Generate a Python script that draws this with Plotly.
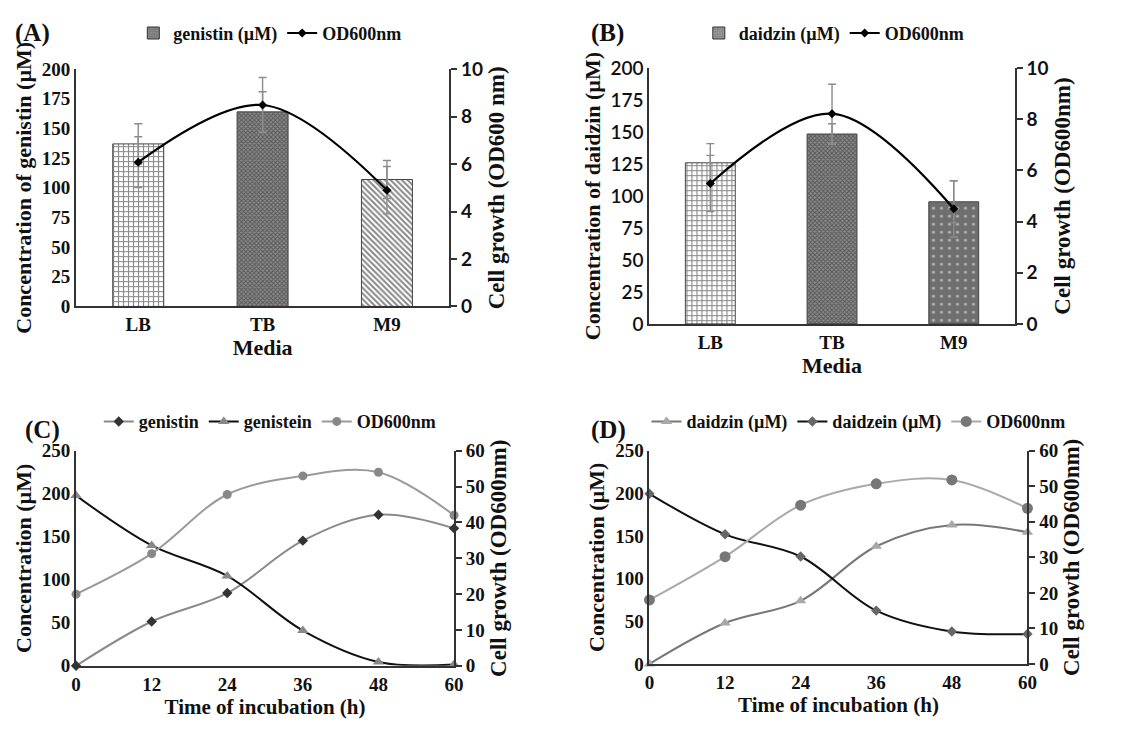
import plotly.graph_objects as go

# ---------------- data ----------------
media = ["LB", "TB", "M9"]
genistin_conc = [137, 164, 107]
genistin_err = [17, 17, 16]
od_a = [6.08, 8.49, 4.9]
od_a_err = [1.07, 1.16, 1.0]

daidzin_conc = [126, 148.5, 95.5]
daidzin_err = [15, 8, 16.5]
od_b = [5.49, 8.22, 4.5]
od_b_err = [1.1, 1.15, 1.1]

hours = [0, 12, 24, 36, 48, 60]
genistin_c = [0, 51.5, 84.6, 145.5, 175.6, 159.8]
genistein_c = [198, 140, 104.5, 41, 4.5, 1.5]
od_c = [20, 31.3, 47.8, 53, 54, 42]

daidzin_d = [0, 48, 74, 138, 163, 154.5]
daidzein_d = [199.6, 152, 126, 62.5, 38, 35]
od_d = [18, 30.2, 44.7, 50.7, 51.8, 43.8]

# ---------------- styling helpers ----------------
W, H = 1146, 733
SERIF = "Liberation Serif"
SANS = "Lato"
AX = "#333333"


def px_x(a, b):
    return [a / W, b / W]


def px_y(top, bottom):
    return [1 - bottom / H, 1 - top / H]


fig = go.Figure()

bar_patterns_a = dict(
    shape=["+", "x", "\\"],
    fgcolor=["#111111", "#222222", "#111111"],
    bgcolor=["#ffffff", "#8a8a8a", "#ffffff"],
    size=[5, 3, 4],
    solidity=[0.4, 0.5, 0.5],
)
bar_patterns_b = dict(
    shape=["+", "x", "."],
    fgcolor=["#111111", "#222222", "#ffffff"],
    bgcolor=["#ffffff", "#8a8a8a", "#6e6e6e"],
    size=[5, 3, 8],
    solidity=[0.4, 0.5, 0.12],
)

err_style = dict(type="data", color="#8c8c8c", thickness=1.4, width=4, visible=True)

# ---- Panel A ----
fig.add_trace(go.Bar(x=media, y=genistin_conc, width=0.41, xaxis="x", yaxis="y",
                     marker=dict(color="#777777", pattern=bar_patterns_a,
                                 line=dict(color="#444444", width=1)),
                     error_y=dict(array=genistin_err, **err_style),
                     showlegend=False))
fig.add_trace(go.Bar(x=media, y=[None, None, None], width=0.41, xaxis="x", yaxis="y",
                     marker=dict(color="#7a7a7a", pattern=dict(shape=".", fgcolor="#555", bgcolor="#888", size=3, solidity=0.3),
                                 line=dict(color="#333333", width=1)),
                     name="genistin (µM)", legend="legend"))
fig.add_trace(go.Scatter(x=media, y=od_a, xaxis="x", yaxis="y2", mode="lines+markers",
                         line=dict(color="black", width=2.2, shape="spline"),
                         marker=dict(symbol="diamond", size=7, color="black"),
                         error_y=dict(array=od_a_err, **err_style),
                         name="OD600nm", legend="legend"))

# ---- Panel B ----
fig.add_trace(go.Bar(x=media, y=daidzin_conc, width=0.41, xaxis="x2", yaxis="y3",
                     marker=dict(color="#777777", pattern=bar_patterns_b,
                                 line=dict(color="#444444", width=1)),
                     error_y=dict(array=daidzin_err, **err_style),
                     showlegend=False))
fig.add_trace(go.Bar(x=media, y=[None, None, None], width=0.41, xaxis="x2", yaxis="y3",
                     marker=dict(color="#7a7a7a", pattern=dict(shape=".", fgcolor="#555", bgcolor="#999", size=3, solidity=0.3),
                                 line=dict(color="#333333", width=1)),
                     name="daidzin (µM)", legend="legend2"))
fig.add_trace(go.Scatter(x=media, y=od_b, xaxis="x2", yaxis="y4", mode="lines+markers",
                         line=dict(color="black", width=2.2, shape="spline"),
                         marker=dict(symbol="diamond", size=7, color="black"),
                         error_y=dict(array=od_b_err, **err_style),
                         name="OD600nm", legend="legend2"))

# ---- Panel C ----
fig.add_trace(go.Scatter(x=hours, y=genistin_c, xaxis="x3", yaxis="y5", mode="lines+markers",
                         line=dict(color="#8a8a8a", width=2, shape="spline"),
                         marker=dict(symbol="diamond", size=8, color="#333333"),
                         cliponaxis=False, name="genistin", legend="legend3"))
fig.add_trace(go.Scatter(x=hours, y=genistein_c, xaxis="x3", yaxis="y5", mode="lines+markers",
                         line=dict(color="#111111", width=2, shape="spline"),
                         marker=dict(symbol="triangle-up", size=10, color="#888888"),
                         cliponaxis=False, name="genistein", legend="legend3"))
fig.add_trace(go.Scatter(x=hours, y=od_c, xaxis="x3", yaxis="y6", mode="lines+markers",
                         line=dict(color="#9a9a9a", width=2, shape="spline"),
                         marker=dict(symbol="circle", size=9, color="#888888"),
                         cliponaxis=False, name="OD600nm", legend="legend3"))

# ---- Panel D ----
fig.add_trace(go.Scatter(x=hours, y=daidzin_d, xaxis="x4", yaxis="y7", mode="lines+markers",
                         line=dict(color="#777777", width=2, shape="spline"),
                         marker=dict(symbol="triangle-up", size=10, color="#a8a8a8"),
                         cliponaxis=False, name="daidzin (µM)", legend="legend4"))
fig.add_trace(go.Scatter(x=hours, y=daidzein_d, xaxis="x4", yaxis="y7", mode="lines+markers",
                         line=dict(color="#111111", width=2, shape="spline"),
                         marker=dict(symbol="diamond", size=8, color="#666666"),
                         cliponaxis=False, name="daidzein (µM)", legend="legend4"))
fig.add_trace(go.Scatter(x=hours, y=od_d, xaxis="x4", yaxis="y8", mode="lines+markers",
                         line=dict(color="#aaaaaa", width=2, shape="spline"),
                         marker=dict(symbol="circle", size=11, color="#777777"),
                         cliponaxis=False, name="OD600nm", legend="legend4"))

# ---------------- axes ----------------
serif_tick = dict(family=SERIF, size=19, color="#111", weight="bold")
sans_tick = dict(family=SANS, size=19, color="#111", weight="bold")
title_font = dict(family=SERIF, size=22, color="#111", weight="bold")
rtitle_font = dict(family=SERIF, size=23, color="#111", weight="bold")


def xcat(domain, anchor):
    return dict(domain=domain, anchor=anchor, type="category", showline=True, linecolor=AX,
                linewidth=2, ticks="", tickfont=serif_tick, showgrid=False, zeroline=False,
                title=dict(text="Media", font=dict(family=SERIF, size=22, color="#111", weight="bold"), standoff=4))


def xtime(domain, anchor):
    return dict(domain=domain, anchor=anchor, range=[0, 60], tickvals=[0, 12, 24, 36, 48, 60],
                showline=True, linecolor=AX, linewidth=2, ticks="", tickfont=serif_tick,
                showgrid=False, zeroline=False,
                title=dict(text="Time of incubation (h)", font=dict(family=SERIF, size=21, color="#111", weight="bold"), standoff=2))


def yleft(domain, anchor, rng, dtick, title, tickfont):
    return dict(domain=domain, anchor=anchor, range=rng, dtick=dtick, showline=True, linecolor=AX,
                linewidth=2, ticks="", tickfont=tickfont, showgrid=False, zeroline=False,
                title=dict(text=title, font=title_font, standoff=4))


def yright(overlay, anchor, rng, dtick, title, tickfont):
    return dict(overlaying=overlay, anchor=anchor, side="right", range=rng, dtick=dtick, showline=True,
                linecolor=AX, linewidth=2, ticks="outside", ticklen=6, tickcolor=AX, tickwidth=1.5,
                tickfont=tickfont, showgrid=False, zeroline=False,
                title=dict(text=title, font=rtitle_font, standoff=6))


dom_a_x = px_x(72, 450)
dom_a_y = px_y(59, 304)
dom_b_x = px_x(653, 1023)
dom_b_y = px_y(58, 322)
dom_c_x = px_x(72, 455)
dom_c_y = px_y(453, 675)
dom_d_x = px_x(653, 1036)
dom_d_y = px_y(453, 673)

fig.update_layout(
    xaxis=xcat(dom_a_x, "y"),
    yaxis=yleft(dom_a_y, "x", [0, 200], 25, "Concentration of genistin (µM)", serif_tick),
    yaxis2=yright("y", "x", [0, 10], 2, "Cell growth (OD600 nm)", sans_tick),
    xaxis2=xcat(dom_b_x, "y3"),
    yaxis3=yleft(dom_b_y, "x2", [0, 200], 25, "Concentration of daidzin (µM)",
                 dict(family=SANS, size=19, color="#111", weight=600)),
    yaxis4=yright("y3", "x2", [0, 10], 2, "Cell growth (OD600nm)", sans_tick),
    xaxis3=xtime(dom_c_x, "y5"),
    yaxis5=yleft(dom_c_y, "x3", [0, 250], 50, "Concentration (µM)", serif_tick),
    yaxis6=yright("y5", "x3", [0, 60], 10, "Cell growth (OD600nm)", serif_tick),
    xaxis4=xtime(dom_d_x, "y7"),
    yaxis7=yleft(dom_d_y, "x4", [0, 250], 50, "Concentration (µM)", serif_tick),
    yaxis8=yright("y7", "x4", [0, 60], 10, "Cell growth (OD600nm)", serif_tick),
)

legend_common = dict(orientation="h", xanchor="left", yanchor="middle", bgcolor="rgba(0,0,0,0)",
                     font=dict(family=SERIF, size=18, color="#111", weight="bold"),
                     itemwidth=30, tracegroupgap=0)
fig.update_layout(
    legend=dict(x=130 / W, y=1 - 22 / H, **legend_common),
    legend2=dict(x=703 / W, y=1 - 22 / H, **legend_common),
    legend3=dict(x=95 / W, y=1 - 423 / H, **legend_common),
    legend4=dict(x=650 / W, y=1 - 423 / H, **legend_common),
)

labels = [("(A)", 8, 22), ("(B)", 592, 22), ("(C)", 18, 432), ("(D)", 592, 432)]
for txt, lx, ly in labels:
    fig.add_annotation(text=txt, x=lx / W, y=1 - ly / H, xref="paper", yref="paper",
                       xanchor="left", yanchor="middle", showarrow=False,
                       font=dict(family=SERIF, size=25, color="#111", weight="bold"))

fig.update_layout(
    width=W, height=H, margin=dict(l=0, r=0, t=0, b=0),
    paper_bgcolor="white", plot_bgcolor="white",
    barmode="overlay", showlegend=True,
    font=dict(family=SERIF, color="#111"),
)

fig.write_html("out.html")
